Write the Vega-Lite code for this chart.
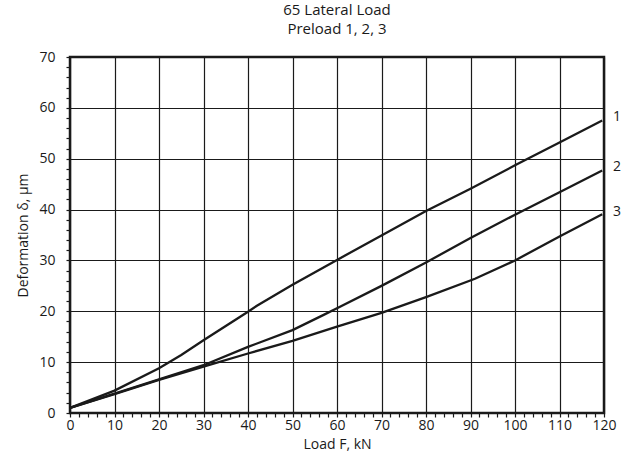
{
  "$schema": "https://vega.github.io/schema/vega-lite/v6.json",
  "width": 534,
  "height": 356,
  "autosize": "none",
  "padding": {"left": 70, "top": 57, "right": 25, "bottom": 44},
  "background": "white",
  "config": {
    "font": "Open Sans",
    "view": {"stroke": "#1a1a1a", "strokeWidth": 2.5},
    "axis": {"labelFont": "Open Sans", "titleFont": "Open Sans", "labelColor": "#1a1a1a", "titleColor": "#1a1a1a", "labelFontSize": 14, "titleFontSize": 14, "titleFontWeight": "normal"}
  },
  "title": {"text": ["65 Lateral Load", "Preload 1, 2, 3"], "fontSize": 15, "fontWeight": "normal", "font": "Open Sans", "color": "#1a1a1a", "anchor": "middle", "offset": 13, "lineHeight": 19},
  "datasets": {
    "curves": [
      {"F": 0, "d": 1.0, "s": "1"}, {"F": 10, "d": 4.4, "s": "1"}, {"F": 20, "d": 8.8, "s": "1"}, {"F": 25, "d": 11.4, "s": "1"}, {"F": 30, "d": 14.3, "s": "1"}, {"F": 40, "d": 19.9, "s": "1"}, {"F": 42, "d": 21.1, "s": "1"}, {"F": 50, "d": 25.2, "s": "1"}, {"F": 60, "d": 30.1, "s": "1"}, {"F": 70, "d": 34.9, "s": "1"}, {"F": 80, "d": 39.7, "s": "1"}, {"F": 90, "d": 44.1, "s": "1"}, {"F": 100, "d": 48.7, "s": "1"}, {"F": 110, "d": 53.2, "s": "1"}, {"F": 119.6, "d": 57.5, "s": "1"},
      {"F": 0, "d": 1.0, "s": "2"}, {"F": 10, "d": 3.8, "s": "2"}, {"F": 20, "d": 6.6, "s": "2"}, {"F": 30, "d": 9.4, "s": "2"}, {"F": 40, "d": 13.0, "s": "2"}, {"F": 50, "d": 16.3, "s": "2"}, {"F": 57, "d": 19.3, "s": "2"}, {"F": 60, "d": 20.6, "s": "2"}, {"F": 70, "d": 25.0, "s": "2"}, {"F": 80, "d": 29.6, "s": "2"}, {"F": 90, "d": 34.4, "s": "2"}, {"F": 100, "d": 39.0, "s": "2"}, {"F": 110, "d": 43.4, "s": "2"}, {"F": 119.6, "d": 47.7, "s": "2"},
      {"F": 0, "d": 1.0, "s": "3"}, {"F": 10, "d": 3.7, "s": "3"}, {"F": 20, "d": 6.5, "s": "3"}, {"F": 30, "d": 9.1, "s": "3"}, {"F": 40, "d": 11.7, "s": "3"}, {"F": 50, "d": 14.2, "s": "3"}, {"F": 60, "d": 17.0, "s": "3"}, {"F": 70, "d": 19.7, "s": "3"}, {"F": 80, "d": 22.8, "s": "3"}, {"F": 91, "d": 26.4, "s": "3"}, {"F": 100, "d": 30.0, "s": "3"}, {"F": 110, "d": 34.7, "s": "3"}, {"F": 119.6, "d": 39.1, "s": "3"}
    ],
    "labels": [
      {"F": 120, "d": 58.3, "s": "1"}, {"F": 120, "d": 48.4, "s": "2"}, {"F": 120, "d": 39.6, "s": "3"}
    ]
  },
  "layer": [
    {
      "data": {"name": "curves"},
      "mark": {"type": "line", "color": "#1a1a1a", "strokeWidth": 2.3, "clip": false},
      "encoding": {
        "x": {"field": "F", "type": "quantitative", "scale": {"domain": [0, 120], "nice": false},
          "axis": {"title": "Load F, kN", "tickCount": 1000, "format": "d", "values": [0,2,4,6,8,10,12,14,16,18,20,22,24,26,28,30,32,34,36,38,40,42,44,46,48,50,52,54,56,58,60,62,64,66,68,70,72,74,76,78,80,82,84,86,88,90,92,94,96,98,100,102,104,106,108,110,112,114,116,118,120],
            "labelExpr": "datum.value % 10 === 0 ? datum.label : ''", "labelOverlap": false, "labelFlush": false, "labelPadding": 1,
            "grid": true, "gridColor": "#1a1a1a", "gridWidth": 1.2,
            "gridOpacity": {"condition": {"test": "datum.value % 10 === 0", "value": 1}, "value": 0},
            "tickColor": "#1a1a1a", "tickSize": 4, "tickWidth": 1.2, "domain": false, "titlePadding": 5}},
        "y": {"field": "d", "type": "quantitative", "scale": {"domain": [0, 70], "nice": false},
          "axis": {"title": "Deformation δ, μm", "tickCount": 1000, "format": "d", "values": [0,2,4,6,8,10,12,14,16,18,20,22,24,26,28,30,32,34,36,38,40,42,44,46,48,50,52,54,56,58,60,62,64,66,68,70],
            "labelExpr": "datum.value % 10 === 0 ? datum.label : ''", "labelOverlap": false, "labelFlush": false, "labelPadding": 11,
            "grid": true, "gridColor": "#1a1a1a", "gridWidth": 1.2,
            "gridOpacity": {"condition": {"test": "datum.value % 10 === 0", "value": 1}, "value": 0},
            "tickColor": "#1a1a1a", "tickSize": 4, "tickWidth": 1.2, "domain": false, "titlePadding": 8}},
        "detail": {"field": "s", "type": "nominal"}
      }
    },
    {
      "data": {"name": "labels"},
      "mark": {"type": "text", "align": "left", "dx": 9, "fontSize": 14, "color": "#1a1a1a", "font": "Open Sans"},
      "encoding": {
        "x": {"field": "F", "type": "quantitative"},
        "y": {"field": "d", "type": "quantitative"},
        "text": {"field": "s", "type": "nominal"}
      }
    }
  ]
}
